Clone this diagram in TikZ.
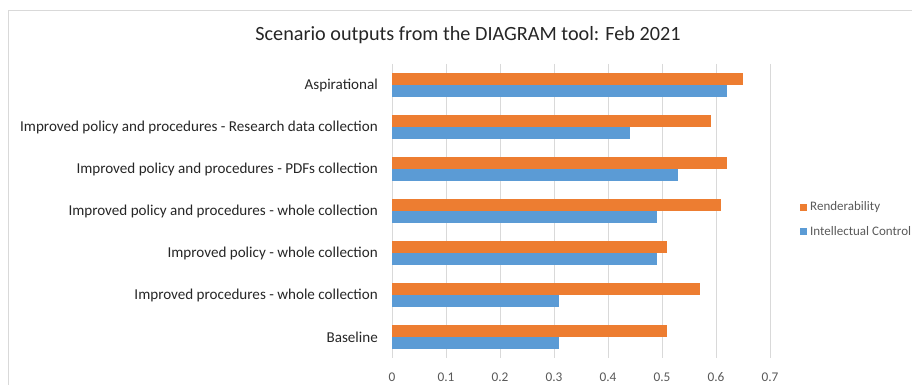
\documentclass[tikz,border=0pt]{standalone}
\usepackage{fontspec}
\setmainfont{Carlito}

\definecolor{rend}{HTML}{ED7D31}
\definecolor{ictl}{HTML}{5B9BD5}
\definecolor{gridc}{HTML}{D9D9D9}
\definecolor{txt}{HTML}{262626}
\definecolor{ticktxt}{HTML}{595959}

\begin{document}
\begin{tikzpicture}[x=1pt,y=-1pt,
  cat/.style={anchor=east,inner sep=0pt,text=txt,font=\fontsize{15.1}{17}\selectfont},
  ticklab/.style={inner sep=0pt,text=ticktxt,font=\fontsize{13.3}{15}\selectfont},
  legtxt/.style={anchor=west,inner sep=0pt,text=ticktxt,font=\fontsize{13}{15}\selectfont}]

\useasboundingbox (0,0) rectangle (912,385);

% chart frame
\draw[gridc] (8,10.5)--(912,10.5);
\draw[gridc] (8,10.5)--(8,385);

% title
\node[inner sep=0pt,text=txt,font=\fontsize{20.2}{22}\selectfont] (title) at (468,35)
  {Scenario outputs from the DIAGRAM tool: Feb 2021};

% grid and value axis
\foreach \v in {0,0.1,...,0.71}{
  \draw[gridc,line width=1pt] (392+540*\v,64)--(392+540*\v,358);
}
\foreach \v/\lab in {0/0,0.1/0.1,0.2/0.2,0.3/0.3,0.4/0.4,0.5/0.5,0.6/0.6,0.7/0.7}{
  \node[ticklab] (t\lab) at (392+540*\v,377) {\lab};
}

% categories
\node[cat] (asp) at (378,85) {Aspirational};
\node[cat] (rdc) at (378,127) {Improved policy and procedures - Research data collection};
\node[cat] (pdf) at (378,169) {Improved policy and procedures - PDFs collection};
\node[cat] (whole) at (378,211) {Improved policy and procedures - whole collection};
\node[cat] (pol) at (378,253) {Improved policy - whole collection};
\node[cat] (proc) at (378,295) {Improved procedures - whole collection};
\node[cat] (base) at (378,337) {Baseline};

% bars: Renderability on top, Intellectual Control below
\fill[rend] (392,73) rectangle (392+540*0.65,85);
\fill[ictl] (392,85) rectangle (392+540*0.62,97);

\fill[rend] (392,115) rectangle (392+540*0.59,127);
\fill[ictl] (392,127) rectangle (392+540*0.44,139);

\fill[rend] (392,157) rectangle (392+540*0.62,169);
\fill[ictl] (392,169) rectangle (392+540*0.53,181);

\fill[rend] (392,199) rectangle (392+540*0.61,211);
\fill[ictl] (392,211) rectangle (392+540*0.49,223);

\fill[rend] (392,241) rectangle (392+540*0.51,253);
\fill[ictl] (392,253) rectangle (392+540*0.49,265);

\fill[rend] (392,283) rectangle (392+540*0.57,295);
\fill[ictl] (392,295) rectangle (392+540*0.31,307);

\fill[rend] (392,325) rectangle (392+540*0.51,337);
\fill[ictl] (392,337) rectangle (392+540*0.31,349);

% legend
\fill[rend] (800,204) rectangle (807,211);
\node[legtxt] (legR) at (810,207.5) {Renderability};
\fill[ictl] (800,228) rectangle (807,235);
\node[legtxt] (legI) at (810,231.5) {Intellectual Control};

\end{tikzpicture}
\end{document}
